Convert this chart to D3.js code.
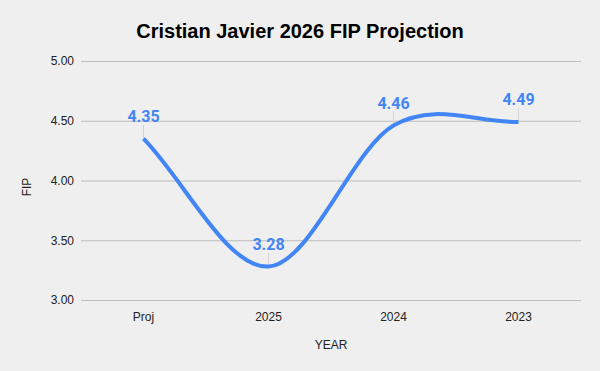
<!DOCTYPE html>
<html>
<head>
<meta charset="utf-8">
<script src="https://cdn.jsdelivr.net/npm/d3@7"></script>
<style>
  html, body { margin: 0; padding: 0; background: #efefef; }
  svg { display: block; }
</style>
</head>
<body>
<svg id="chart" width="600" height="371"></svg>
<script>
// ---- data ----
const categories = ["Proj", "2025", "2024", "2023"];
const fipValues = [4.35, 3.28, 4.46, 4.49];
const yTicks = [3.0, 3.5, 4.0, 4.5, 5.0];
const titleText = "Cristian Javier 2026 FIP Projection";
const xAxisTitle = "YEAR";
const yAxisTitle = "FIP";

// ---- layout ----
const W = 600, H = 371;
const plot = { left: 81, right: 581, top: 61, bottom: 300 };
const svg = d3.select("#chart");
svg.append("rect").attr("width", W).attr("height", H).attr("fill", "#efefef");

const x = d3.scaleBand().domain(categories).range([plot.left, plot.right]).padding(0);
const y = d3.scaleLinear().domain([3, 5]).range([plot.bottom, plot.top]);
const cx = c => x(c) + x.bandwidth() / 2;

// title
svg.append("text")
  .attr("x", 300).attr("y", 38)
  .attr("text-anchor", "middle")
  .attr("font-family", "'Liberation Sans', Arial, sans-serif")
  .attr("font-weight", "bold").attr("font-size", 20)
  .attr("fill", "#000")
  .text(titleText);

// y axis / gridlines
const yAxis = d3.axisLeft(y).tickValues(yTicks).tickFormat(d3.format(".2f"))
  .tickSize(-(plot.right - plot.left)).tickPadding(7);
const yg = svg.append("g").attr("transform", `translate(${plot.left},0)`).call(yAxis);
yg.select(".domain").remove();
yg.selectAll(".tick line").attr("stroke", "#bdbdbd").attr("stroke-width", 1);
yg.selectAll(".tick text")
  .attr("font-family", "'Liberation Sans', Arial, sans-serif")
  .attr("font-size", 12).attr("fill", "#222");

// x axis labels
const xAxis = d3.axisBottom(x).tickSize(0).tickPadding(12);
const xg = svg.append("g").attr("transform", `translate(0,${plot.bottom})`).call(xAxis);
xg.select(".domain").remove();
xg.selectAll(".tick text")
  .attr("font-family", "'Liberation Sans', Arial, sans-serif")
  .attr("font-size", 12).attr("fill", "#222");

// axis titles
svg.append("text")
  .attr("x", (plot.left + plot.right) / 2).attr("y", 349)
  .attr("text-anchor", "middle")
  .attr("font-family", "'Liberation Sans', Arial, sans-serif")
  .attr("font-size", 12).attr("fill", "#222")
  .text(xAxisTitle);
svg.append("text")
  .attr("transform", "translate(30.5,187) rotate(-90)")
  .attr("text-anchor", "middle")
  .attr("font-family", "'Liberation Sans', Arial, sans-serif")
  .attr("font-size", 12).attr("fill", "#222")
  .text(yAxisTitle);

// smooth line (cubic Hermite, finite-difference tangents)
const pts = categories.map((c, i) => [cx(c), y(fipValues[i])]);
const n = pts.length;
const T = pts.map((p, i) => {
  if (i === 0) return pts[1][1] - pts[0][1];
  if (i === n - 1) return pts[n - 1][1] - pts[n - 2][1];
  return (pts[i + 1][1] - pts[i - 1][1]) / 2;
});
const path = d3.path();
path.moveTo(pts[0][0], pts[0][1]);
for (let i = 0; i < n - 1; i++) {
  const dx = pts[i + 1][0] - pts[i][0];
  path.bezierCurveTo(
    pts[i][0] + dx / 3, pts[i][1] + T[i] / 3,
    pts[i + 1][0] - dx / 3, pts[i + 1][1] - T[i + 1] / 3,
    pts[i + 1][0], pts[i + 1][1]);
}

// leader lines for labels
svg.append("g").selectAll("line").data(categories).join("line")
  .attr("x1", d => cx(d)).attr("x2", d => cx(d))
  .attr("y1", (d, i) => y(fipValues[i]) - 14)
  .attr("y2", (d, i) => y(fipValues[i]))
  .attr("stroke", "#d6d6d6").attr("stroke-width", 1);

svg.append("path")
  .attr("d", path.toString())
  .attr("fill", "none")
  .attr("stroke", "#4285f4")
  .attr("stroke-width", 4)
  .attr("stroke-linecap", "butt");

// data labels
svg.append("g").selectAll("text").data(categories).join("text")
  .attr("x", d => cx(d))
  .attr("y", (d, i) => y(fipValues[i]) - 17)
  .attr("text-anchor", "middle")
  .attr("font-family", "Roboto, sans-serif")
  .attr("font-weight", "bold").attr("font-size", 16)
  .attr("fill", "#4285f4")
  .text((d, i) => d3.format(".2f")(fipValues[i]));
</script>
</body>
</html>
